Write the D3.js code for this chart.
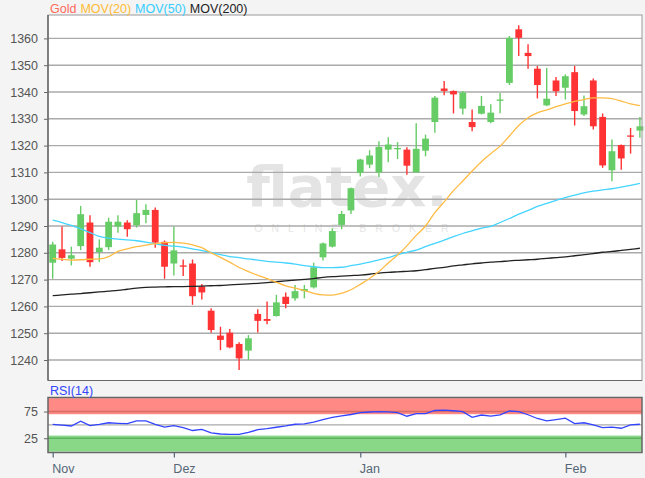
<!DOCTYPE html>
<html><head><meta charset="utf-8">
<script src="https://cdn.jsdelivr.net/npm/d3@7/dist/d3.min.js"></script>
<style>body{margin:0;background:#f4f4f4;}svg{display:block;font-family:"Liberation Sans",Arial,sans-serif;}</style>
</head><body><svg id="c" width="645" height="478"></svg>
<script>
const opens  = [1276.3,1281.3,1277.8,1282.5,1291.3,1280.3,1282.1,1289.8,1291.3,1290.3,1294.1,1296.0,1284.1,1276.0,1275.3,1276.0,1267.4,1258.4,1249.1,1250.2,1246.0,1243.5,1257.2,1255.3,1256.4,1263.6,1263.0,1265.7,1267.1,1278.3,1282.3,1290.4,1295.8,1309.8,1312.9,1310.0,1318.5,1318.8,1318.5,1310.0,1318.1,1328.8,1341.3,1340.4,1333.8,1328.8,1331.9,1328.8,1336.7,1343.4,1363.4,1354.6,1348.7,1335.0,1344.3,1341.6,1347.4,1331.6,1344.3,1330.7,1310.8,1320.2,1323.8,1325.6];
const highs  = [1284.1,1289.8,1282.3,1297.5,1294.0,1285.0,1293.1,1294.0,1292.1,1299.8,1298.1,1296.9,1284.6,1289.8,1277.5,1277.5,1268.4,1259.3,1252.4,1251.6,1246.6,1249.3,1258.9,1261.8,1264.3,1265.2,1268.0,1268.0,1276.3,1283.8,1289.1,1295.6,1304.4,1315.1,1318.3,1321.6,1323.1,1321.3,1319.4,1328.3,1324.1,1338.5,1344.1,1340.6,1340.4,1333.5,1338.5,1335.4,1339.6,1360.9,1364.9,1357.8,1349.7,1349.0,1345.6,1346.6,1349.7,1338.7,1345.0,1332.0,1322.3,1320.4,1326.6,1330.7];
const lows   = [1270.3,1276.9,1275.3,1281.0,1274.8,1276.5,1281.0,1287.5,1286.0,1289.4,1291.0,1281.9,1270.3,1271.5,1271.3,1260.6,1262.6,1250.2,1243.7,1244.4,1236.3,1240.0,1250.3,1253.3,1256.2,1259.3,1262.1,1263.0,1266.7,1277.1,1282.0,1288.8,1294.5,1308.5,1311.6,1308.3,1313.8,1315.0,1309.1,1310.0,1316.0,1324.8,1338.8,1332.0,1331.6,1325.4,1331.6,1328.3,1332.1,1342.6,1353.4,1348.7,1337.6,1334.7,1338.5,1337.2,1327.5,1331.0,1326.0,1311.7,1306.7,1311.0,1317.0,1322.9];
const closes = [1283.1,1278.1,1279.1,1294.4,1276.5,1281.9,1291.6,1291.6,1288.8,1294.8,1296.0,1283.8,1274.8,1280.9,1274.8,1263.8,1265.2,1251.2,1247.5,1244.7,1240.6,1248.1,1254.6,1254.6,1261.5,1260.9,1265.7,1266.5,1274.6,1283.5,1288.1,1294.5,1304.1,1314.8,1316.3,1319.5,1320.4,1319.1,1312.5,1318.8,1322.6,1337.9,1340.4,1339.1,1339.8,1326.9,1334.8,1332.3,1337.2,1360.2,1360.2,1353.4,1342.6,1337.5,1340.3,1345.9,1332.9,1334.7,1327.2,1312.6,1317.9,1315.2,1323.3,1327.2];
// candle colour as shown (1 = rising/green)
const rising = [1,0,1,1,0,1,1,1,0,1,1,0,0,1,0,0,0,0,0,0,0,1,0,0,1,0,1,1,1,1,1,1,1,1,1,1,1,1,0,1,1,1,0,0,1,0,1,1,1,1,0,0,0,1,0,1,0,1,0,0,1,0,0,1];
const mov20  = [1277.9,1277.6,1277.3,1277.4,1277.6,1277.7,1278.6,1280.5,1281.5,1282.3,1282.9,1283.4,1283.8,1283.9,1283.6,1283.0,1281.9,1280.0,1278.3,1276.5,1274.5,1273.0,1271.6,1270.4,1269.0,1267.7,1266.8,1265.9,1264.9,1264.3,1264.2,1264.9,1266.2,1268.2,1270.4,1273.0,1276.2,1279.2,1282.6,1286.5,1290.0,1295.0,1299.0,1303.2,1306.8,1310.5,1314.0,1317.0,1319.8,1323.6,1327.5,1330.4,1332.2,1333.3,1334.5,1335.6,1336.5,1337.2,1337.8,1337.8,1337.5,1336.6,1335.6,1334.9];
const mov50  = [1292.2,1291.3,1290.2,1288.9,1287.5,1286.1,1285.5,1285.1,1284.8,1284.5,1284.0,1283.4,1282.8,1282.5,1282.1,1281.5,1280.8,1280.2,1279.3,1278.6,1278.2,1277.7,1277.3,1276.8,1276.5,1276.2,1275.8,1275.2,1274.8,1274.5,1274.5,1274.6,1275.2,1275.8,1276.5,1277.4,1278.2,1279.3,1280.2,1281.0,1282.3,1283.5,1284.7,1286.0,1287.2,1288.2,1289.2,1289.9,1291.3,1292.8,1294.4,1295.8,1297.3,1298.4,1299.6,1300.6,1301.5,1302.4,1303.0,1303.5,1303.9,1304.5,1305.2,1305.9];
const mov200 = [1264.0,1264.3,1264.6,1264.8,1265.1,1265.4,1265.7,1266.0,1266.4,1266.8,1267.1,1267.2,1267.3,1267.4,1267.4,1267.5,1267.6,1267.7,1267.8,1268.0,1268.2,1268.4,1268.6,1268.9,1269.2,1269.5,1269.8,1270.1,1270.4,1270.8,1271.1,1271.3,1271.5,1271.7,1272.0,1272.4,1272.7,1272.9,1273.1,1273.3,1273.7,1274.2,1274.6,1275.1,1275.5,1275.9,1276.2,1276.5,1276.7,1277.0,1277.2,1277.4,1277.6,1277.9,1278.2,1278.5,1278.9,1279.3,1279.7,1280.2,1280.5,1280.9,1281.3,1281.7];
const rsi14  = [51,49.5,48,57,48.6,51,54,53,52.3,57.4,57.4,51,46,48.6,45,39.5,41.5,35,33,32.4,32.4,36,41,43,45.6,48,51.2,51.8,55,60,64,67,69.5,73,74.2,74.8,74.5,73,66.2,71,71,77,77.8,76.5,74.9,64,68.5,66.5,68.7,76,75,69,62,57.4,60,62.5,52.5,54,50,44.9,46,43.7,50,51.2];
const monthTickIdx = [0,13,33,55];
const monthLabels = ["Nov","Dez","Jan","Feb"];
const priceTicks = [1240,1250,1260,1270,1280,1290,1300,1310,1320,1330,1340,1350,1360];
const rsiTicks = [25,75];
const legendItems = [["Gold","#ff6a5a"],["MOV(20)","#ffbb33"],["MOV(50)","#33ccff"],["MOV(200)","#222"]];

const svg = d3.select("#c");
const L = 48, R = 642, T = 15, B = 380.5, RT = 397.5, RB = 452.5;
const x = d3.scaleLinear().domain([0, 63]).range([52.7, 639.9]);
const y = d3.scaleLinear().domain([1240, 1360]).range([360, 38.4]);
const yr = d3.scaleLinear().domain([0, 100]).range([451.6, 398.2]);

// main panel
svg.append("rect").attr("x", L).attr("y", T).attr("width", R - L).attr("height", B - T).attr("fill", "#fff");
// watermark
const wm = svg.append("g");
wm.append("text").attr("x", 347).attr("y", 206).attr("text-anchor", "middle")
  .attr("font-size", 56).attr("font-family", "'DejaVu Sans',sans-serif").attr("font-weight", "bold")
  .attr("fill", "#e4e4e4").text("flatex.");
wm.append("text").attr("x", 356).attr("y", 232).attr("text-anchor", "middle")
  .attr("font-size", 10.5).attr("letter-spacing", 9).attr("fill", "#e6e6e6").text("ONLINE BROKER");

// gridlines
svg.append("g").selectAll("line").data(priceTicks).join("line")
  .attr("x1", L).attr("x2", R).attr("y1", d => y(d)).attr("y2", d => y(d))
  .attr("stroke", "#aaa").attr("stroke-width", 1.4);

// y axis
const yAxis = svg.append("g").attr("transform", `translate(${L},0)`)
  .call(d3.axisLeft(y).tickValues(priceTicks).tickSize(4).tickPadding(6).tickFormat(d3.format("d")));
yAxis.select(".domain").remove();
yAxis.selectAll("line").attr("stroke", "#666");
yAxis.selectAll("text").attr("font-size", 12.5).attr("fill", "#555").attr("font-family", "'Liberation Sans',Arial,sans-serif");

// candles
const cg = svg.append("g");
const idx = d3.range(opens.length);
const col = i => rising[i] ? "#66cc66" : "#ff3333";
cg.selectAll("line.w").data(idx).join("line").attr("class", "w")
  .attr("x1", i => x(i)).attr("x2", i => x(i)).attr("y1", i => y(highs[i])).attr("y2", i => y(lows[i]))
  .attr("stroke", col).attr("stroke-width", 1.4);
cg.selectAll("rect").data(idx).join("rect")
  .attr("x", i => x(i) - 3.4).attr("width", 6.8)
  .attr("y", i => y(Math.max(opens[i], closes[i])))
  .attr("height", i => Math.max(1.3, Math.abs(y(opens[i]) - y(closes[i]))))
  .attr("fill", col);

// moving averages
const line = arr => d3.line().x((d, i) => x(i)).y(d => y(d)).curve(d3.curveMonotoneX)(arr);
svg.append("path").attr("d", line(mov200)).attr("fill", "none").attr("stroke", "#222").attr("stroke-width", 1.3);
svg.append("path").attr("d", line(mov50)).attr("fill", "none").attr("stroke", "#44d4ff").attr("stroke-width", 1.3);
svg.append("path").attr("d", line(mov20)).attr("fill", "none").attr("stroke", "#ffbb44").attr("stroke-width", 1.3);

// main border
svg.append("rect").attr("x", L).attr("y", T).attr("width", R - L).attr("height", B - T)
  .attr("fill", "none").attr("stroke", "#999").attr("stroke-width", 1);
svg.append("line").attr("x1", L).attr("x2", L).attr("y1", T).attr("y2", B).attr("stroke", "#666").attr("stroke-width", 1.5);
svg.append("line").attr("x1", L).attr("x2", R).attr("y1", B).attr("y2", B).attr("stroke", "#666").attr("stroke-width", 1.2);

// legend
let lx = 50;
const lg = svg.append("g").attr("font-size", 12.5);
legendItems.forEach(([t, c]) => {
  const tx = lg.append("text").attr("x", lx).attr("y", 13).attr("fill", c).text(t);
  lx += tx.node().getComputedTextLength() + 4;
});

// RSI panel
svg.append("rect").attr("x", L).attr("y", RT).attr("width", R - L).attr("height", RB - RT).attr("fill", "#fff");
svg.append("rect").attr("x", L).attr("y", yr(100)).attr("width", R - L).attr("height", yr(70) - yr(100)).attr("fill", "#ff8a85");
svg.append("rect").attr("x", L).attr("y", yr(30)).attr("width", R - L).attr("height", yr(0) - yr(30)).attr("fill", "#88d888");
svg.append("line").attr("x1", L).attr("x2", R).attr("y1", yr(75)).attr("y2", yr(75)).attr("stroke", "#d96b66").attr("stroke-width", 1.4);
svg.append("line").attr("x1", L).attr("x2", R).attr("y1", yr(25)).attr("y2", yr(25)).attr("stroke", "#5fb25f").attr("stroke-width", 1.4);
svg.append("line").attr("x1", L).attr("x2", R).attr("y1", yr(50)).attr("y2", yr(50)).attr("stroke", "#aaa").attr("stroke-width", 1.2);
svg.append("path").attr("d", d3.line().x((d, i) => x(i)).y(d => yr(d))(rsi14))
  .attr("fill", "none").attr("stroke", "#3344ff").attr("stroke-width", 1.3);
svg.append("rect").attr("x", L).attr("y", RT).attr("width", R - L).attr("height", RB - RT)
  .attr("fill", "none").attr("stroke", "#666").attr("stroke-width", 1.5);
const ra = svg.append("g").attr("transform", `translate(${L},0)`)
  .call(d3.axisLeft(yr).tickValues(rsiTicks).tickSize(4).tickPadding(6));
ra.select(".domain").remove();
ra.selectAll("line").attr("stroke", "#666");
ra.selectAll("text").attr("font-size", 12.5).attr("fill", "#555").attr("font-family", "'Liberation Sans',Arial,sans-serif");
svg.append("text").attr("x", 50).attr("y", 395).attr("font-size", 12.5).attr("fill", "#3344ff").text("RSI(14)");

// x axis
const xa = svg.append("g").attr("transform", `translate(0,${RB})`)
  .call(d3.axisBottom(x).tickValues(monthTickIdx).tickSize(5).tickPadding(7).tickFormat((d, i) => monthLabels[i]));
xa.select(".domain").remove();
xa.selectAll("line").attr("stroke", "#556677").attr("stroke-width", 1.2);
xa.selectAll("text").attr("text-anchor", "start").attr("dx", -1).attr("font-size", 12.5).attr("fill", "#556677").attr("font-family", "'Liberation Sans',Arial,sans-serif");
</script></body></html>
